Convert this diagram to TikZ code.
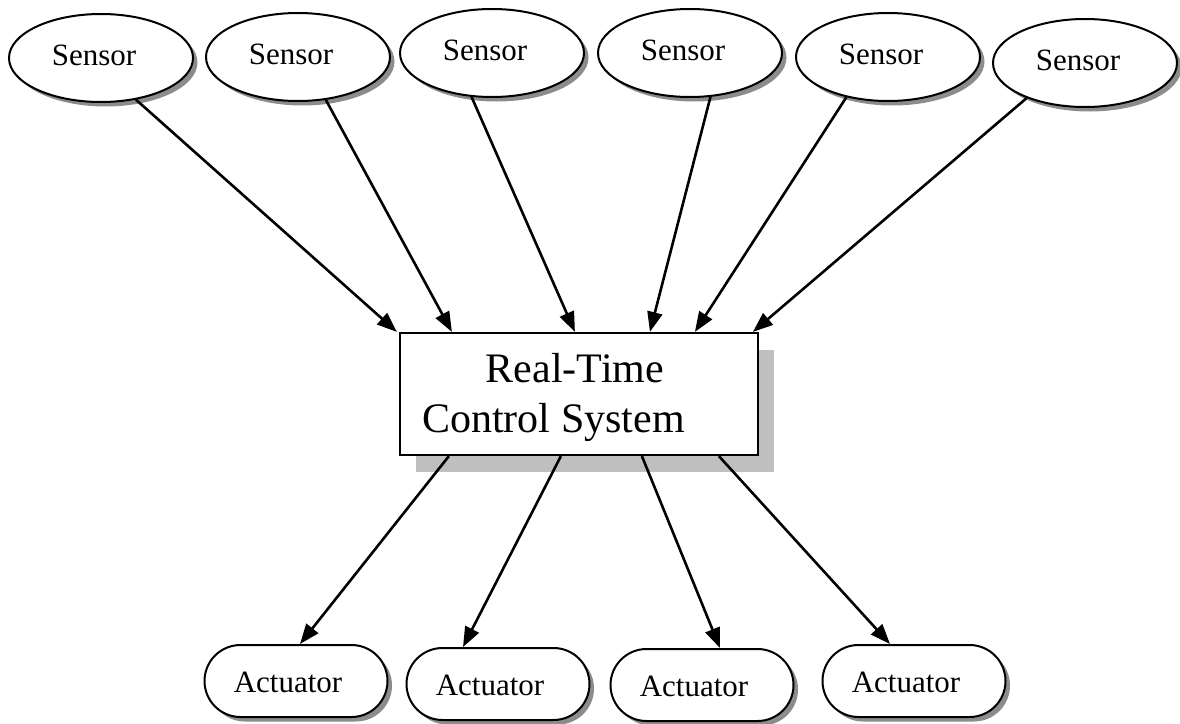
\documentclass[tikz,border=0pt]{standalone}
\usepackage{fontspec}
\setmainfont{Liberation Serif}
\usetikzlibrary{shapes.geometric,shapes.misc,shadows,arrows.meta,calc}

\tikzset{
  sensor/.style={ellipse, draw, line width=2pt, fill=white, inner sep=0pt,
    minimum width=184pt, minimum height=88pt,
    drop shadow={shadow xshift=4.5pt, shadow yshift=-4.5pt, fill=black!45, opacity=1}},
  actuator/.style={rounded rectangle, draw, line width=2pt, fill=white, inner sep=0pt,
    minimum width=183pt, minimum height=72pt,
    drop shadow={shadow xshift=4.5pt, shadow yshift=-4.5pt, fill=black!45, opacity=1}},
  controller/.style={rectangle, draw, line width=2.2pt, fill=white, inner sep=0pt,
    minimum width=358pt, minimum height=122pt,
    drop shadow={shadow xshift=16pt, shadow yshift=-17pt, fill=black!25, opacity=1}},
  smalltext/.style={anchor=base, inner sep=0pt, font=\fontsize{31}{37}\selectfont},
  bigtext/.style={inner sep=0pt, font=\fontsize{42}{50}\selectfont},
  flow/.style={line width=2.6pt, -{Triangle[length=20pt,width=15pt]}}
}

\begin{document}
\begin{tikzpicture}[x=1pt, y=-1pt]
  \useasboundingbox (0,0) rectangle (1180,723);

  % sensors
  \node[sensor] (s1) at (101,58) {};
  \node[sensor] (s2) at (298,57) {};
  \node[sensor] (s3) at (492,53) {};
  \node[sensor] (s4) at (690,53) {};
  \node[sensor] (s5) at (888,57) {};
  \node[sensor] (s6) at (1085,63) {};
  \foreach \s in {s1,s2,s3,s4,s5,s6}
    \node[smalltext] (\s-t) at ([xshift=-7pt,yshift=-7pt]\s.center) {Sensor};

  % controller
  \node[controller] (rtcs) at (579,394) {};
  \node[bigtext, anchor=base] (rtcs-t1) at (575,382) {Real-Time};
  \node[bigtext, anchor=base west] (rtcs-t2) at (422,432) {Control System};

  % actuators
  \node[actuator] (a1) at (296,681) {};
  \node[actuator] (a2) at (498,684) {};
  \node[actuator] (a3) at (702,685) {};
  \node[actuator] (a4) at (914,681) {};
  \foreach \a in {a1,a2,a3,a4}
    \node[smalltext] (\a-t) at ([xshift=-8pt,yshift=-11pt]\a.center) {Actuator};

  % sensor inputs
  \draw[flow] (s1.-50.7) -- ($(rtcs.north west)+(-2,0)$);
  \draw[flow] (s2.-57.4) -- ($(rtcs.north west)+(53,0)$);
  \draw[flow] (s3.245.6) -- ($(rtcs.north west)+(176,0)$);
  \draw[flow] (s4.-65.8) -- ($(rtcs.north west)+(251,0)$);
  \draw[flow] (s5.224.3) -- ($(rtcs.north west)+(296,0)$);
  \draw[flow] (s6.211.1) -- ($(rtcs.north west)+(354,0)$);

  % actuator outputs
  \draw[flow] ($(rtcs.south west)+(50,0)$) -- ($(a1.north)+(4,0)$);
  \draw[flow] ($(rtcs.south west)+(162,0)$) -- ($(a2.north)+(-35,0)$);
  \draw[flow] ($(rtcs.south west)+(243,0)$) -- ($(a3.north)+(18,0)$);
  \draw[flow] ($(rtcs.south west)+(320,0)$) -- ($(a4.north)+(-24,0)$);
\end{tikzpicture}
\end{document}
